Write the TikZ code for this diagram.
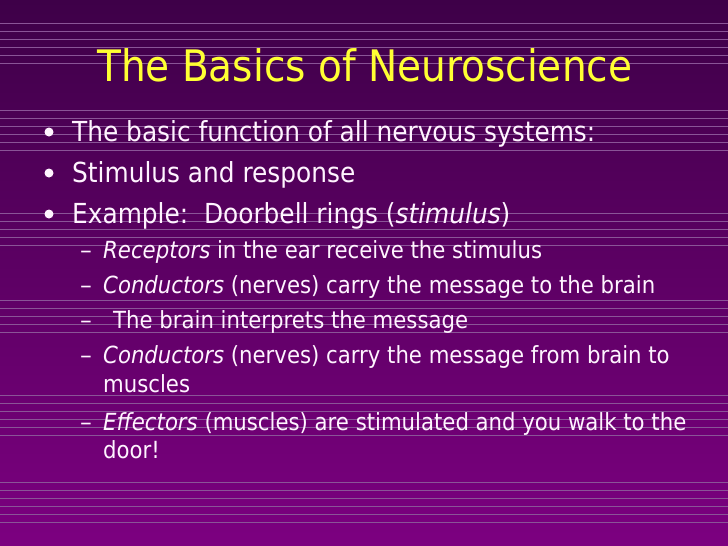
\documentclass[tikz,border=0pt]{standalone}
\usepackage{fontspec}
\setmainfont{DejaVu Sans Condensed}
\newfontfamily\dashfont{DejaVu Sans}
\usepackage{xcolor}
\usepackage{tikz}
\definecolor{slidetop}{HTML}{3E0048}
\definecolor{slidebot}{HTML}{7C0080}
\definecolor{stripe}{HTML}{8A5497}
\definecolor{titleyellow}{HTML}{FFFF33}
\definecolor{bodytext}{HTML}{FFF4FF}
\begin{document}
\begin{tikzpicture}[x=1pt,y=-1pt,
                every node/.append style = {anchor = base west, inner sep = 0pt, text = bodytext},
                stripe line/.style = {stripe, line width = 0.8pt},
                title text/.style = {font = \fontsize{43.4}{52}\selectfont, text = titleyellow},
                main text/.style = {font = \fontsize{27.6}{33}\selectfont},
                sub text/.style = {font = \fontsize{23.6}{28}\selectfont},
                dot/.style = {circle, fill = bodytext, minimum size = 9pt, anchor = center}]
            \useasboundingbox (0,0) rectangle (728,546);
            \shade[top color = slidetop, bottom color = slidebot] (0,0) rectangle (728,546);
            \foreach \y in {23,31,39,47,55,63,110,118,126,134,142,150,213,221,229,237,245,
                            300,308,316,324,332,395,403,411,419,427,435,482,490,498,506,514,522}
                \draw[stripe line] (0,\y) -- (728,\y);
            \node[title text] (title) at (97,81) {The Basics of Neuroscience};
            \node[dot] (d1) at (49,132) {};
            \node[dot] (d2) at (49,173) {};
            \node[dot] (d3) at (49,214) {};
            \node[main text] (m1) at (72,141) {The basic function of all nervous systems:};
            \node[main text] (m2) at (72,182) {Stimulus and response};
            \node[main text] (m3) at (72,223) {Example:\ \ Doorbell rings (\textit{stimulus})};
            \foreach \y/\n in {258/1,293/2,328/3,363/4,430/5}
                \node[sub text] (s\n) at (80,\y) {\dashfont –};
            \node[sub text] (t1) at (103,258) {\textit{Receptors} in the ear receive the stimulus};
            \node[sub text] (t2) at (103,293) {\textit{Conductors} (nerves) carry the message to the brain};
            \node[sub text] (t3) at (113,328) {The brain interprets the message};
            \node[sub text] (t4) at (103,363) {\textit{Conductors} (nerves) carry the message from brain to};
            \node[sub text] (t4b) at (103,392) {muscles};
            \node[sub text] (t5) at (103,430) {\textit{Effectors} (muscles) are stimulated and you walk to the};
            \node[sub text] (t5b) at (103,458) {door!};
\end{tikzpicture}
\end{document}
